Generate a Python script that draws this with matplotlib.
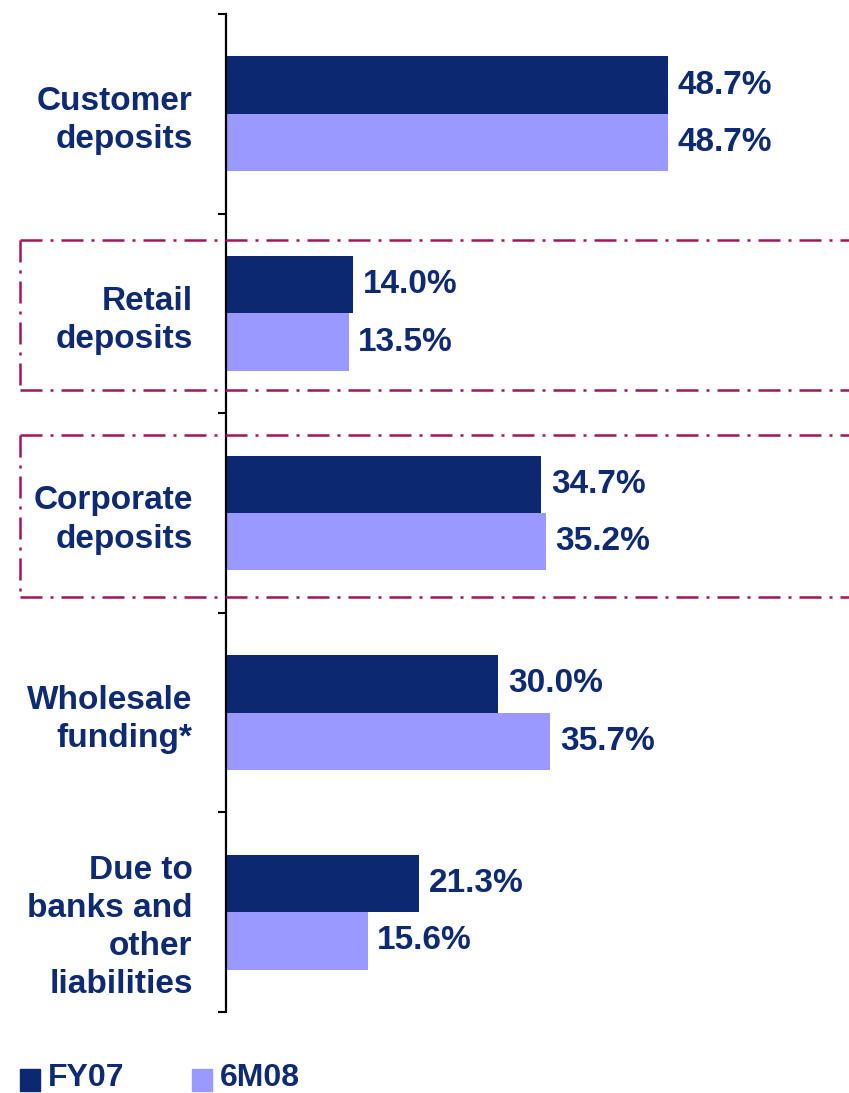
import matplotlib
matplotlib.use("Agg")
import matplotlib.pyplot as plt
from matplotlib.patches import Rectangle
from matplotlib.transforms import blended_transform_factory

categories = ["Customer\ndeposits", "Retail\ndeposits", "Corporate\ndeposits",
              "Wholesale\nfunding*", "Due to\nbanks and\nother\nliabilities"]
fy07 = [48.7, 14.0, 34.7, 30.0, 21.3]
m6_08 = [48.7, 13.5, 35.2, 35.7, 15.6]
series_names = ["FY07", "6M08"]

C_DARK = "#0B2870"
C_LIGHT = "#9999FF"
C_TEXT = "#0E2A72"
C_BOX = "#A3145A"
FONT = ["Liberation Sans", "DejaVu Sans"]

W, H = 849, 1093
fig = plt.figure(figsize=(W / 100, H / 100), dpi=100)
ax = fig.add_axes([226 / W, 1 - 1012 / H, 1 - 226 / W, (1012 - 14) / H])

n = len(categories)
ys = list(range(n))
bh = 0.288
ax.barh([y - bh / 2 for y in ys], fy07, height=bh, color=C_DARK, zorder=2)
ax.barh([y + bh / 2 for y in ys], m6_08, height=bh, color=C_LIGHT, zorder=2)

ax.set_ylim(n - 0.5, -0.5)
ax.set_xlim(0, (W - 226) / 9.08)

for s in ["top", "right", "bottom"]:
    ax.spines[s].set_visible(False)
ax.spines["left"].set_linewidth(1.6)
ax.set_xticks([])
ax.set_yticks([i - 0.5 for i in range(n + 1)])
ax.set_yticklabels([])
ax.tick_params(axis="y", direction="out", length=6, width=1.5)

# value labels
for y, v1, v2 in zip(ys, fy07, m6_08):
    ax.annotate(f"{v1:.1f}%", xy=(v1, y - bh / 2), xytext=(7, 0), textcoords="offset points",
                ha="left", va="center", fontsize=24, fontweight="bold", color=C_TEXT, family=FONT)
    ax.annotate(f"{v2:.1f}%", xy=(v2, y + bh / 2), xytext=(7, 0), textcoords="offset points",
                ha="left", va="center", fontsize=24, fontweight="bold", color=C_TEXT, family=FONT)

# category labels
for y, lab in zip(ys, categories):
    nl = lab.count("\n")
    off = -5 if nl == 1 else -11
    ax.annotate(lab, xy=(0, y), xycoords=("axes fraction", "data"), xytext=(-24, off),
                textcoords="offset points", ha="right", va="center", fontsize=24,
                fontweight="bold", color=C_TEXT, family=FONT, linespacing=1.3)

# dash-dot boxes
tr = blended_transform_factory(fig.transFigure, ax.transData)
ls = (0, (8.8, 3.2, 1.2, 3.2))
def to_data(py):
    return (py - 14) / ((1012 - 14) / n) - 0.5
for top, bot in [(240, 390), (435, 597)]:
    yt, yb = to_data(top), to_data(bot)
    x0 = 20 / W
    ax.plot([x0, 1.0], [yt, yt], transform=tr, color=C_BOX, lw=1.8, ls=ls, clip_on=False, zorder=3)
    ax.plot([x0, 1.0], [yb, yb], transform=tr, color=C_BOX, lw=1.8, ls=ls, clip_on=False, zorder=3)
    ax.plot([x0, x0], [yt, yb], transform=tr, color=C_BOX, lw=1.8, ls=ls, clip_on=False, zorder=3)

# legend
for x_sq, x_tx, name, col in [(20, 48, series_names[0], C_DARK), (192, 220, series_names[1], C_LIGHT)]:
    fig.patches.append(Rectangle((x_sq / W, 1 - 1091 / H), 20 / W, 22 / H,
                                 transform=fig.transFigure, color=col))
    fig.text(x_tx / W, 1 - 1078 / H, name, ha="left", va="center", fontsize=23,
             fontweight="bold", color=C_TEXT, family=FONT)

fig.savefig("out.png", dpi=100)
